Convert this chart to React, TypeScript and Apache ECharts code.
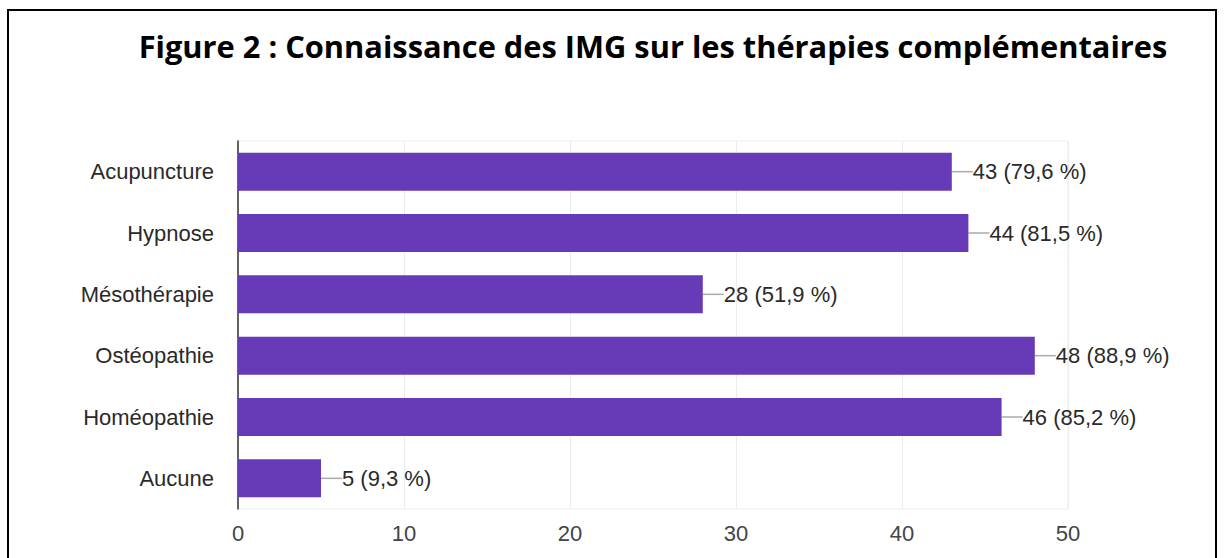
import React, { useEffect, useRef } from "react";
import * as echarts from "echarts";

const categories = ["Acupuncture", "Hypnose", "Mésothérapie", "Ostéopathie", "Homéopathie", "Aucune"];
const counts = [43, 44, 28, 48, 46, 5];
const percents = ["79,6", "81,5", "51,9", "88,9", "85,2", "9,3"];
const xTicks = [0, 10, 20, 30, 40, 50];
const title = "Figure 2 : Connaissance des IMG sur les thérapies complémentaires";

export default function App() {
  const ref = useRef<HTMLDivElement>(null);
  useEffect(() => {
    document.body.style.margin = "0";
    const chart = echarts.init(ref.current!, null, { renderer: "svg" });
    chart.setOption({
      animation: false,
      backgroundColor: "#ffffff",
      title: {
        text: title,
        left: 648,
        textAlign: "center",
        top: 25,
        textStyle: {
          fontFamily: "Open Sans",
          fontWeight: "bold",
          fontSize: 30.8,
          color: "#000",
        },
      },
      graphic: [
        {
          type: "rect",
          shape: { x: 8, y: 10, width: 1208, height: 560 },
          style: { fill: "none", stroke: "#000", lineWidth: 2 },
          silent: true,
        },
      ],
      grid: {
        left: 238,
        right: 156,
        top: 141,
        bottom: 49,
        show: true,
        borderColor: "#ececec",
        borderWidth: 1,
      },
      xAxis: {
        type: "value",
        min: xTicks[0],
        max: xTicks[xTicks.length - 1],
        interval: 10,
        axisLine: { show: false },
        axisTick: { show: false },
        splitLine: { show: true, lineStyle: { color: "#ececec", width: 1 } },
        axisLabel: {
          fontFamily: "Arial, Liberation Sans",
          fontSize: 22,
          color: "#444",
          margin: 13,
        },
      },
      yAxis: {
        type: "category",
        data: categories,
        inverse: true,
        axisLine: { show: true, lineStyle: { color: "#333", width: 1.5 } },
        axisTick: { show: false },
        splitLine: { show: false },
        axisLabel: {
          fontFamily: "Arial, Liberation Sans",
          fontSize: 22,
          color: "#2a2a2a",
          margin: 24,
        },
      },
      series: [
        {
          type: "bar",
          data: counts,
          barWidth: "62%",
          itemStyle: { color: "#673ab7" },
          label: {
            show: true,
            position: "right",
            distance: 0,
            fontFamily: "Arial, Liberation Sans",
            fontSize: 22,
            color: "#2a2a2a",
            formatter: (p: any) => `${p.value} (${percents[p.dataIndex]} %)`,
          },
          labelLayout: { dx: 21 },
          labelLine: { show: true, lineStyle: { color: "#aaa", width: 1.5 } },
        },
      ],
    });
    return () => chart.dispose();
  }, []);
  return <div ref={ref} style={{ position: "absolute", left: 0, top: 0, width: 1224, height: 558 }} />;
}
